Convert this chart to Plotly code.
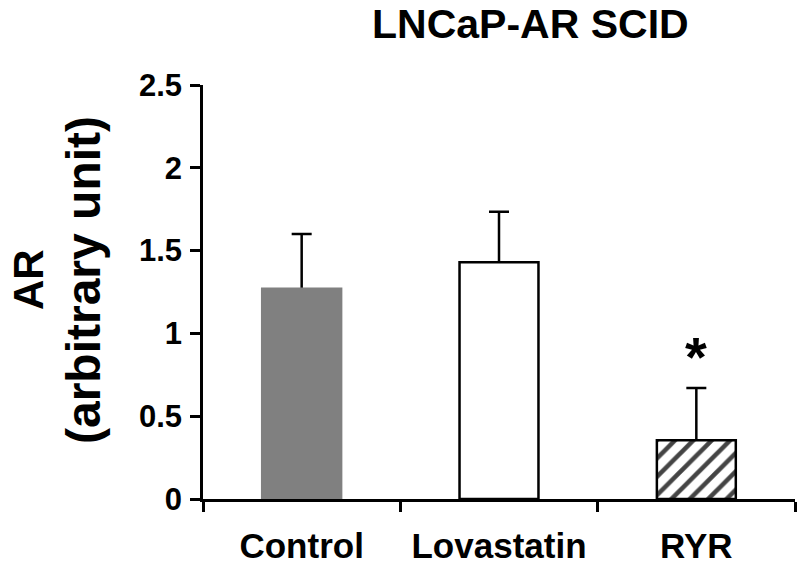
import plotly.graph_objects as go

categories = ["Control", "Lovastatin", "RYR"]
means = [1.27, 1.43, 0.355]
errors = [0.33, 0.305, 0.315]
y_ticks = [0, 0.5, 1, 1.5, 2, 2.5]
y_tick_text = ["0", "0.5", "1", "1.5", "2", "2.5"]
title_text = "LNCaP-AR SCID"
signif_y = 0.86

FONT = "Liberation Sans, Arial, sans-serif"

fig = go.Figure()
# error bars (lower half hidden behind the bars drawn afterwards)
fig.add_trace(go.Bar(
    x=categories, y=means, width=0.4,
    marker=dict(color="rgba(0,0,0,0)", line=dict(width=0)),
    error_y=dict(type="data", array=errors, color="black", thickness=2.5, width=10),
    showlegend=False, hoverinfo="skip",
))
fig.add_trace(go.Bar(
    x=categories, y=means, width=0.4,
    marker=dict(
        color=["#808080", "white", "white"],
        line=dict(color=["#808080", "black", "black"], width=2.5),
        pattern=dict(shape=["", "", "/"], fgcolor="black", bgcolor="white",
                     fgopacity=1, size=13, solidity=0.35, fillmode="overlay"),
    ),
    showlegend=False,
))

fig.add_annotation(x="RYR", y=signif_y, text="*", showarrow=False,
                   font=dict(family=FONT, size=56, color="black", weight="bold"),
                   xanchor="center", yanchor="middle")
fig.add_annotation(xref="paper", yref="paper", x=(530 - 203) / 592, y=(499 - 0) / 414,
                   text=title_text, showarrow=False, borderpad=0,
                   font=dict(family=FONT, size=41, color="black", weight="bold"),
                   xanchor="center", yanchor="top")
fig.add_annotation(xref="paper", yref="paper", x=(28 - 203) / 592, y=(499 - 280) / 414,
                   text="AR", showarrow=False, textangle=-90,
                   font=dict(family=FONT, size=42, color="black", weight="bold"),
                   xanchor="center", yanchor="middle")
fig.add_annotation(xref="paper", yref="paper", x=(83 - 203) / 592, y=(499 - 280) / 414,
                   text="(arbitrary unit)", showarrow=False, textangle=-90,
                   font=dict(family=FONT, size=48, color="black", weight="bold"),
                   xanchor="center", yanchor="middle")

fig.update_layout(
    width=800, height=566,
    margin=dict(l=203, r=5, t=85, b=67, pad=0, autoexpand=False),
    paper_bgcolor="white", plot_bgcolor="white",
    barmode="overlay",
    xaxis=dict(
        type="category", range=[-0.5, 2.5], automargin=False,
        showline=True, linecolor="black", linewidth=2.5,
        ticks="outside", ticklen=10, tickwidth=2.5, tickcolor="black",
        tickson="boundaries", showgrid=False, zeroline=False,
        ticklabelstandoff=14,
        tickfont=dict(family=FONT, size=35, color="black", weight="bold"),
    ),
    yaxis=dict(
        range=[0, 2.5], tickvals=y_ticks, ticktext=y_tick_text, automargin=False,
        showline=True, linecolor="black", linewidth=2.5,
        ticks="outside", ticklen=10, tickwidth=2.5, tickcolor="black",
        showgrid=False, zeroline=False,
        ticklabelstandoff=2,
        tickfont=dict(family=FONT, size=31, color="black", weight="bold"),
    ),
)

fig.write_html("out.html", config={"displayModeBar": False},
               post_script="document.body.style.margin='0px';document.documentElement.style.overflow='hidden';")
